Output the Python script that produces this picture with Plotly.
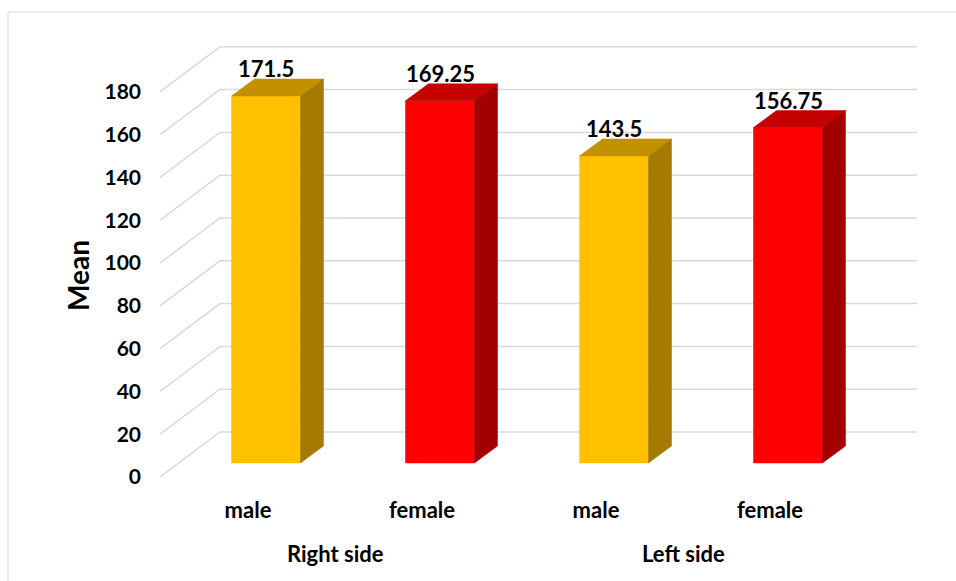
import plotly.graph_objects as go

# ---- data -------------------------------------------------------------
sides = ["Right side", "Left side"]
sexes = ["male", "female", "male", "female"]
side_of_bar = ["Right side", "Right side", "Left side", "Left side"]
means = [171.5, 169.25, 143.5, 156.75]
y_ticks = [0, 20, 40, 60, 80, 100, 120, 140, 160, 180]

# ---- colours ----------------------------------------------------------
front_col = ["#FFC000", "#FF0000", "#FFC000", "#FF0000"]
top_col = ["#C29100", "#C40000", "#C29100", "#C40000"]
side_col = ["#A47B00", "#A20000", "#A47B00", "#A20000"]
grid_col = "#D9D9D9"
font_family = "Lato, 'Open Sans', sans-serif"

# ---- figure geometry (pixels) ------------------------------------------
W, H = 956, 581
m_l, m_r, m_t, m_b = 160, 39, 20, 104
plot_w = W - m_l - m_r
plot_h = H - m_t - m_b
px_x = 174.0          # pixels per category step
px_y = 2.14           # pixels per value unit
x_lo = -106.0 / px_x
x_hi = x_lo + plot_w / px_x
y_hi = plot_h / px_y

# oblique projection: depth of the side wall / floor and of each column
wall_dx, wall_dy = 60.0 / px_x, 45.0 / px_y
bar_dx, bar_dy = 23.0 / px_x, 17.0 / px_y
bar_base = 14.0 / px_y          # column front face sits a little behind the floor edge
bar_w = 69.0 / px_x
label_dx = -18.0 / px_x         # category labels sit on the front edge of the floor

fig = go.Figure()

# side-wall diagonals and back-wall gridlines
for v in y_ticks:
    fig.add_trace(go.Scatter(
        x=[x_lo, x_lo + wall_dx, x_hi],
        y=[v, v + wall_dy, v + wall_dy],
        mode="lines", line=dict(color=grid_col, width=1.5),
        hoverinfo="skip", showlegend=False))

# 3-D columns: front, top and side faces
xs = list(range(len(means)))
for i, (x, v) in enumerate(zip(xs, means)):
    xl, xr = x - bar_w / 2, x + bar_w / 2
    y0, y1 = bar_base, bar_base + v
    faces = [
        ([xl, xr, xr, xl, xl], [y0, y0, y1, y1, y0], front_col[i]),
        ([xl, xr, xr + bar_dx, xl + bar_dx, xl],
         [y1, y1, y1 + bar_dy, y1 + bar_dy, y1], top_col[i]),
        ([xr, xr + bar_dx, xr + bar_dx, xr, xr],
         [y0, y0 + bar_dy, y1 + bar_dy, y1, y0], side_col[i]),
    ]
    for fx, fy, c in faces:
        fig.add_trace(go.Scatter(
            x=fx, y=fy, mode="lines", fill="toself", fillcolor=c,
            line=dict(color=c, width=0.5), hoverinfo="skip", showlegend=False))
    # value label above the column
    fig.add_annotation(
        x=x, y=y1 + bar_dy, xref="x", yref="y", text=f"{v:g}",
        showarrow=False, yanchor="bottom", yshift=-5,
        font=dict(family=font_family, size=22, color="#000000", weight="bold"))

# group labels under the category labels
for s in sides:
    pos = [x + label_dx for x, g in zip(xs, side_of_bar) if g == s]
    fig.add_annotation(
        x=sum(pos) / len(pos), y=0, xref="x", yref="paper", text=s,
        showarrow=False, yanchor="middle", yshift=-76,
        font=dict(family=font_family, size=22, color="#000000", weight="bold"))

# y-axis title
fig.add_annotation(
    x=(78 - m_l) / plot_w, y=(H - m_b - 276) / plot_h, xref="paper", yref="paper",
    text="Mean", textangle=-90, showarrow=False,
    xanchor="center", yanchor="middle",
    font=dict(family=font_family, size=28, color="#000000", weight="bold"))

# chart-area frame
fig.add_shape(
    type="rect", xref="paper", yref="paper",
    x0=(8 - m_l) / plot_w, x1=(W + 20 - m_l) / plot_w,
    y0=(H - m_b - (H + 20)) / plot_h, y1=(H - m_b - 12) / plot_h,
    line=dict(color="#D9D9D9", width=1), layer="below")

fig.update_layout(
    width=W, height=H,
    margin=dict(l=m_l, r=m_r, t=m_t, b=m_b),
    paper_bgcolor="white", plot_bgcolor="white",
    showlegend=False,
    xaxis=dict(
        range=[x_lo, x_hi], showgrid=False, zeroline=False, showline=False,
        tickmode="array", tickvals=[x + label_dx for x in xs], ticktext=sexes,
        ticks="", ticklabelstandoff=18,
        tickfont=dict(family=font_family, size=22, color="#000000", weight="bold"),
        fixedrange=True),
    yaxis=dict(
        range=[0, y_hi], showgrid=False, zeroline=False, showline=False,
        tickmode="array", tickvals=y_ticks, ticks="", ticklabelstandoff=18,
        tickfont=dict(family=font_family, size=21, color="#000000", weight="bold"),
        fixedrange=True),
)

fig.write_html("out.html")
